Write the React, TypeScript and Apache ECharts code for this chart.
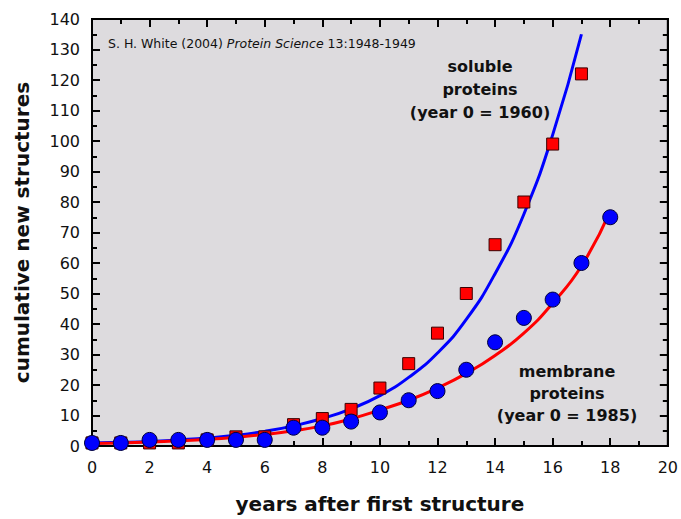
import React, { useEffect, useRef } from "react";
import * as echarts from "echarts";

// Observed data
const solubleYears = [0, 1, 2, 3, 4, 5, 6, 7, 8, 9, 10, 11, 12, 13, 14, 15, 16, 17];
const solubleCounts = [1, 1, 1, 1, 2, 3, 3, 7, 9, 12, 19, 27, 37, 50, 66, 80, 99, 122];
const membraneYears = [0, 1, 2, 3, 4, 5, 6, 7, 8, 9, 10, 11, 12, 13, 14, 15, 16, 17, 18];
const membraneCounts = [1, 1, 2, 2, 2, 2, 2, 6, 6, 8, 11, 15, 18, 25, 34, 42, 48, 60, 75];

// Fitted curves
const solubleFitYears = [0, 1, 2, 3, 4, 5, 6, 7, 8, 9, 10, 11, 12, 13, 14, 15, 16, 17];
const solubleFitValues = [1.0, 1.2, 1.5, 2.0, 2.6, 3.5, 4.8, 6.6, 9.0, 12.2, 16.5, 22.5, 30.5, 41.5, 56.5, 76, 102, 135];
const membraneFitYears = [0, 1, 2, 3, 4, 5, 6, 7, 8, 9, 10, 11, 12, 13, 14, 15, 16, 17, 18];
const membraneFitValues = [0.8, 1.0, 1.3, 1.7, 2.2, 2.9, 3.8, 5.0, 6.6, 8.9, 11.8, 15.0, 19.0, 23.8, 29.7, 37, 46.8, 59, 77];

const xTitle = "years after first structure";
const yTitle = "cumulative new structures";

const zip = (xs: number[], ys: number[]) => xs.map((x, i) => [x, ys[i]]);

export default function App() {
  const ref = useRef<HTMLDivElement>(null);
  useEffect(() => {
    if (!ref.current) return;
    const chart = echarts.init(ref.current, null, { renderer: "svg" });
    const tickFont = { fontFamily: "DejaVu Sans", fontSize: 16, color: "#111" };
    const frameLine = { show: true, onZero: false, lineStyle: { color: "#000", width: 2 } };
    const tick = { show: true, inside: true, length: 8, lineStyle: { color: "#000", width: 2 } };
    const minor = { show: true, splitNumber: 2, length: 5, lineStyle: { color: "#000", width: 2 } };
    const xCommon = { type: "value", min: 0, max: 20, interval: 2, splitLine: { show: false }, minorSplitLine: { show: false }, axisLine: frameLine, axisTick: tick, minorTick: minor };
    const yCommon = { type: "value", min: 0, max: 140, interval: 10, splitLine: { show: false }, minorSplitLine: { show: false }, axisLine: frameLine, axisTick: tick, minorTick: minor };
    const titleFont = { fontFamily: "DejaVu Sans", fontWeight: "bold", fontSize: 20, color: "#111" };
    chart.setOption({
      animation: false,
      grid: { left: 92, top: 19, right: 12, bottom: 66, show: true, backgroundColor: "#dddbde", borderColor: "#000", borderWidth: 2 },
      xAxis: [
        {
          ...xCommon,
          position: "bottom",
          axisLabel: { ...tickFont, margin: 13 },
          name: xTitle,
          nameLocation: "middle",
          nameGap: 48,
          nameTextStyle: titleFont,
        },
        { ...xCommon, position: "top", axisLabel: { show: false } },
      ],
      yAxis: [
        {
          ...yCommon,
          position: "left",
          axisLabel: { ...tickFont, margin: 12 },
          name: yTitle,
          nameLocation: "middle",
          nameGap: 60,
          nameTextStyle: titleFont,
        },
        { ...yCommon, position: "right", axisLabel: { show: false } },
      ],
      series: [
        {
          type: "line",
          data: zip(solubleFitYears, solubleFitValues),
          smooth: true,
          showSymbol: false,
          lineStyle: { color: "#0000ff", width: 3 },
          z: 2,
        },
        {
          type: "line",
          data: zip(membraneFitYears, membraneFitValues),
          smooth: true,
          showSymbol: false,
          lineStyle: { color: "#ff0000", width: 3 },
          z: 2,
        },
        {
          type: "scatter",
          data: zip(solubleYears, solubleCounts),
          symbol: "rect",
          symbolSize: 12,
          itemStyle: { color: "#ff0000", borderColor: "#3a0000", borderWidth: 1, opacity: 1 },
          z: 3,
        },
        {
          type: "scatter",
          data: zip(membraneYears, membraneCounts),
          symbol: "circle",
          symbolSize: 15,
          itemStyle: { color: "#0000ff", borderColor: "#00003a", borderWidth: 1, opacity: 1 },
          z: 4,
        },
      ],
      graphic: [
        {
          type: "text",
          left: 108,
          top: 37,
          style: {
            text: "S. H. White (2004) {i|Protein Science} 13:1948-1949",
            fontFamily: "DejaVu Sans",
            fontSize: 12.5,
            fill: "#111",
            rich: { i: { fontFamily: "DejaVu Sans", fontSize: 12.5, fontStyle: "italic", fill: "#111" } },
          },
        },
        {
          type: "text",
          x: 480,
          y: 55,
          style: {
            text: "soluble\nproteins\n(year 0 = 1960)",
            fontFamily: "DejaVu Sans",
            fontWeight: "bold",
            fontSize: 16,
            lineHeight: 23,
            align: "center",
            fill: "#111",
          },
        },
        {
          type: "text",
          x: 567,
          y: 360,
          style: {
            text: "membrane\nproteins\n(year 0 = 1985)",
            fontFamily: "DejaVu Sans",
            fontWeight: "bold",
            fontSize: 16,
            lineHeight: 22,
            align: "center",
            fill: "#111",
          },
        },
      ],
    });
    return () => chart.dispose();
  }, []);
  return <div ref={ref} style={{ width: 681, height: 519, position: "absolute", left: 0, top: 0 }} />;
}
